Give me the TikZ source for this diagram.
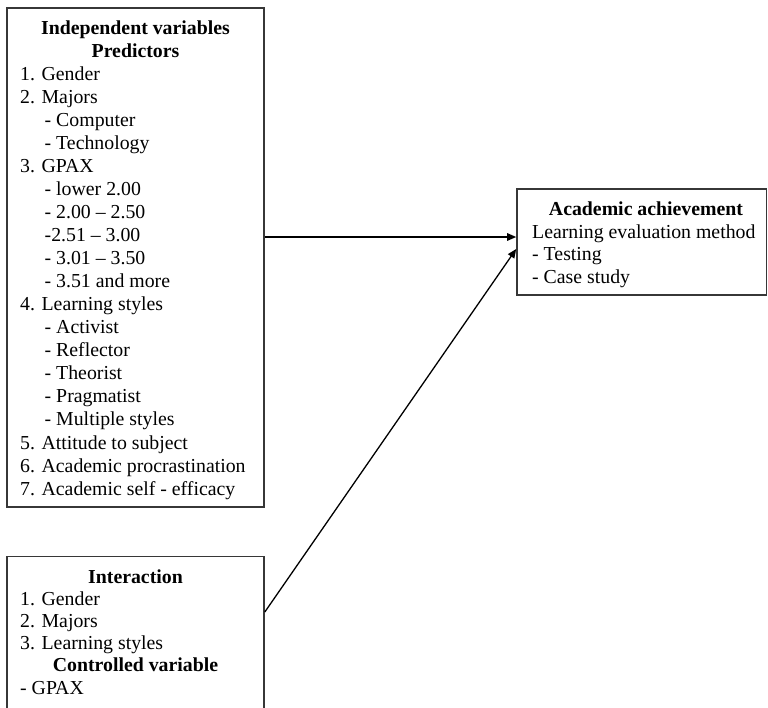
\documentclass[tikz,border=0pt]{standalone}
\usepackage{fontspec}
\setmainfont{Liberation Serif}
\usetikzlibrary{arrows.meta}
\definecolor{boxline}{RGB}{55,55,55}
\begin{document}
\begin{tikzpicture}[x=1pt,y=-1pt,
  box/.style={draw=boxline,line width=1.6pt,rectangle,inner sep=0pt},
  txbase/.style={inner sep=0pt,font=\fontsize{19.8}{23}\selectfont},
  txhd/.style={txbase,anchor=base,xshift=135.5pt,font=\fontsize{19.8}{23}\selectfont\bfseries},
  txit/.style={txbase,anchor=base west,xshift=20pt},
  txsub/.style={txbase,anchor=base west,xshift=44.5pt},
  arr/.style={line width=1.3pt,-{Triangle[length=9pt,width=7.5pt]}}]
\useasboundingbox (0,0) rectangle (768,707);
\clip (0,0) rectangle (768,707);
% boxes
\node[box,minimum width=257pt,minimum height=499pt] (pred) at (135.5,257.5) {};
\node[box,minimum width=257pt,minimum height=163.5pt] (inter) at (135.5,638.25) {};
\node[box,minimum width=249.5pt,minimum height=106pt] (ach) at (641.75,242) {};
% predictors text
\foreach \t/\s [count=\i from 0] in {
  Independent variables/txhd, Predictors/txhd, 1. Gender/txit, 2. Majors/txit,
  - Computer/txsub, - Technology/txsub, 3. GPAX/txit, - lower 2.00/txsub,
  - 2.00 – 2.50/txsub, -2.51 – 3.00/txsub, - 3.01 – 3.50/txsub,
  - 3.51 and more/txsub, 4. Learning styles/txit, - Activist/txsub,
  - Reflector/txsub, - Theorist/txsub, - Pragmatist/txsub,
  - Multiple styles/txsub, 5. Attitude to subject/txit,
  6. Academic procrastination/txit, 7. Academic self - efficacy/txit}
  {\node[\s] (p\i) at (0,{34.3+23.04*\i}) {\t};}
% interaction text
\foreach \t/\s [count=\i from 0] in {
  Interaction/txhd, 1. Gender/txit, 2. Majors/txit, 3. Learning styles/txit,
  Controlled variable/txhd, - GPAX/txit}
  {\node[\s] (q\i) at (0,{583.3+22.15*\i}) {\t};}
% academic achievement text
\node[txbase,anchor=base,font=\fontsize{19.8}{23}\selectfont\bfseries] (a0) at (646,215) {Academic achievement};
\node[txbase,anchor=base west] (a1) at (532,238.3) {Learning evaluation method};
\node[txbase,anchor=base west] (a2) at (532,260.8) {- Testing};
\node[txbase,anchor=base west] (a3) at (532,283.3) {- Case study};
% connectors
\draw[arr] ([yshift=20.5pt]pred.east) -- ([yshift=20.5pt]pred.east -| ach.west);
\draw[arr] ([yshift=26.25pt]inter.east) -- ([yshift=-7pt]ach.west);
\end{tikzpicture}
\end{document}
